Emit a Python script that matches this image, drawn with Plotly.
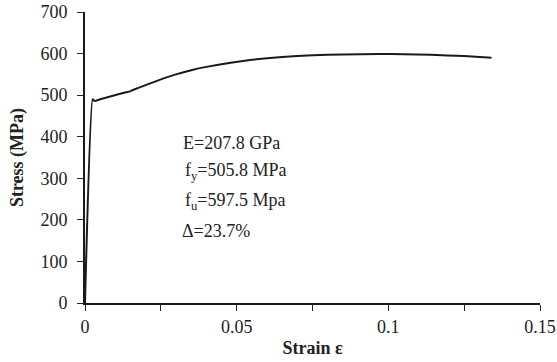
import plotly.graph_objects as go

strain = [0.0, 0.0025, 0.0032, 0.005, 0.008, 0.011, 0.0135, 0.0148, 0.016, 0.02, 0.025,
          0.03, 0.035, 0.04, 0.048, 0.055, 0.065, 0.075, 0.085, 0.097, 0.105, 0.114,
          0.125, 0.134]
stress = [0.0, 490, 486, 490, 496, 502, 507, 509, 513, 524, 538,
          550, 560, 568, 578, 585, 592, 596, 598, 599, 598.5, 597,
          594, 590]

notes = ["E=207.8 GPa", "f<sub>y</sub>=505.8 MPa", "f<sub>u</sub>=597.5 Mpa", "Δ=23.7%"]
note_x = [0.0315, 0.0322, 0.0322, 0.0312]
note_y = [385, 317, 245, 173]

font = "Liberation Serif, Times New Roman, serif"

fig = go.Figure()
fig.add_trace(go.Scatter(x=strain, y=stress, mode="lines", line_shape="spline",
                         line=dict(color="#1a1a1a", width=2, smoothing=0.4),
                         showlegend=False, hoverinfo="skip"))

for t, x, y in zip(notes, note_x, note_y):
    fig.add_annotation(x=x, y=y, xref="x", yref="y", text=t, showarrow=False,
                       xanchor="left", yanchor="middle",
                       font=dict(family=font, size=18, color="#222"))

fig.update_layout(
    width=557, height=362,
    margin=dict(l=85, r=17, t=12, b=59),
    paper_bgcolor="white", plot_bgcolor="white",
    font=dict(family=font, size=18, color="#222"),
    xaxis=dict(range=[0, 0.15], tickvals=[0, 0.05, 0.1, 0.15],
               ticktext=["0", "0.05", "0.1", "0.15"], automargin=False,
               ticks="outside", ticklen=6, tickwidth=1, tickcolor="#222",
               minor=dict(tickvals=[0.025, 0.075, 0.125], ticks="outside",
                          ticklen=6, tickwidth=1, tickcolor="#222"),
               showline=True, linecolor="#1a1a1a", linewidth=2,
               showgrid=False, zeroline=False,
               title=dict(text="<b>Strain ε</b>", standoff=6,
                          font=dict(family=font, size=18))),
    yaxis=dict(range=[0, 700], dtick=100, ticks="outside", ticklen=6, tickwidth=1,
               tickcolor="#222", showline=True, linecolor="#1a1a1a", linewidth=2,
               showgrid=False, zeroline=False, ticklabelstandoff=6, automargin=False,
               title=dict(text="<b>Stress (MPa)</b>", standoff=12,
                          font=dict(family=font, size=18))),
)

fig.write_html("out.html")
